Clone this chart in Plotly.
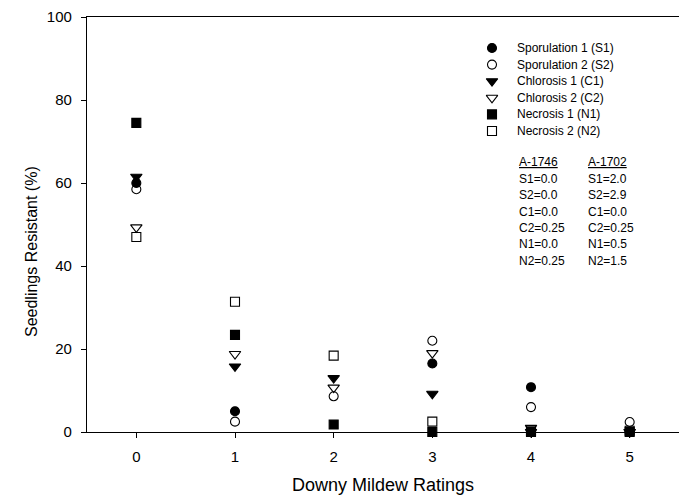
import plotly.graph_objects as go

ratings = [0, 1, 2, 3, 4, 5]
S1 = [60.0, 5.0, None, 16.5, 10.8, 0.0]
S2 = [58.5, 2.5, 8.6, 22.0, 6.0, 2.4]
C1 = [61.5, 15.8, 13.0, 9.2, 0.0, 0.0]
C2 = [49.3, 18.8, 10.7, 19.0, 1.0, 0.0]
N1 = [74.5, 23.4, 1.8, 0.0, 0.0, 0.0]
N2 = [47.0, 31.4, 18.4, 2.5, 0.3, 0.3]

series_names = ["Sporulation 1 (S1)", "Sporulation 2 (S2)", "Chlorosis 1 (C1)",
                "Chlorosis 2 (C2)", "Necrosis 1 (N1)", "Necrosis 2 (N2)"]
series_values = [S1, S2, C1, C2, N1, N2]
symbols = ["circle", "circle-open", "triangle-down", "triangle-down-open", "square", "square-open"]
sizes = [9, 9, 10, 10, 9, 9]

x_ticks = [0, 1, 2, 3, 4, 5]
y_ticks = [0, 20, 40, 60, 80, 100]

hdr_left, hdr_right = "A-1746", "A-1702"
left_col = ["S1=0.0", "S2=0.0", "C1=0.0", "C2=0.25", "N1=0.0", "N2=0.25"]
right_col = ["S1=2.0", "S2=2.9", "C1=0.0", "C2=0.25", "N1=0.5", "N2=1.5"]

FONT = "Liberation Sans, Arial, sans-serif"

# plot-area pixel geometry
L, R, T, B = 87, 679, 17, 432
W, H = 679, 498


def px_x(p):
    return (p - L) / (R - L)


def px_y(p):
    return (B - p) / (B - T)


fig = go.Figure()
for name, vals, sym, sz in zip(series_names, series_values, symbols, sizes):
    fig.add_trace(go.Scatter(
        x=ratings, y=vals, mode="markers", name=name, showlegend=False,
        marker=dict(symbol=sym, size=sz, color="black",
                    line=dict(color="black", width=1.1)),
        cliponaxis=False,
    ))

# legend (symbols on an overlay pixel axis, labels as annotations)
leg_x, leg_y0, leg_dy = 492, 48, 16.6
for i, (name, sym, sz) in enumerate(zip(series_names, symbols, sizes)):
    yy = leg_y0 + i * leg_dy
    fig.add_trace(go.Scatter(
        x=[leg_x], y=[yy], mode="markers", xaxis="x2", yaxis="y2", showlegend=False,
        marker=dict(symbol=sym, size=sz, color="black", line=dict(color="black", width=1.1)),
        hoverinfo="skip", cliponaxis=False,
    ))
    fig.add_annotation(x=px_x(leg_x + 23), y=px_y(yy), xref="paper", yref="paper",
                       xanchor="left", yanchor="middle", showarrow=False,
                       text=name, font=dict(size=12, family=FONT))

# resistance-score table
tab_y0, tab_dy = 162, 16.5
for xpx, hdr, col in [(517, hdr_left, left_col), (586, hdr_right, right_col)]:
    rows = ["<u>" + hdr + "</u>"] + col
    for j, txt in enumerate(rows):
        fig.add_annotation(x=px_x(xpx), y=px_y(tab_y0 + j * tab_dy), xref="paper", yref="paper",
                           xanchor="left", yanchor="middle", showarrow=False,
                           text=txt, font=dict(size=12, family=FONT))

# axis titles
fig.add_annotation(x=px_x(383), y=px_y(497), xref="paper", yref="paper",
                   xanchor="center", yanchor="bottom", showarrow=False,
                   text="Downy Mildew Ratings", font=dict(size=18, family=FONT))
fig.add_annotation(x=px_x(32), y=px_y(252), xref="paper", yref="paper",
                   xanchor="center", yanchor="middle", showarrow=False, textangle=-90,
                   text="Seedlings Resistant (%)", font=dict(size=16, family=FONT))

fig.update_layout(
    width=W, height=H,
    margin=dict(l=L, r=W - R, t=T, b=H - B, pad=0),
    plot_bgcolor="white", paper_bgcolor="white",
    font=dict(family=FONT, color="black"),
    showlegend=False,
    xaxis=dict(range=[-0.5, 5.5], tickvals=x_ticks, ticks="outside", ticklen=5,
               tickcolor="black", tickwidth=1, showline=True, linecolor="black", linewidth=1.2,
               mirror=True, showgrid=False, zeroline=False, ticklabelstandoff=6,
               tickfont=dict(size=15)),
    yaxis=dict(range=[0, 100], tickvals=y_ticks, ticks="outside", ticklen=5,
               tickcolor="black", tickwidth=1, showline=True, linecolor="black", linewidth=1.2,
               showgrid=False, zeroline=False, ticklabelstandoff=6, tickfont=dict(size=15)),
    xaxis2=dict(range=[L, R], domain=[0, 1], anchor="y2", overlaying="x", visible=False),
    yaxis2=dict(range=[B, T], domain=[0, 1], anchor="x2", overlaying="y", visible=False),
)

fig.write_html("out.html", config={"displayModeBar": False},
               post_script="document.body.style.margin='0px';")
